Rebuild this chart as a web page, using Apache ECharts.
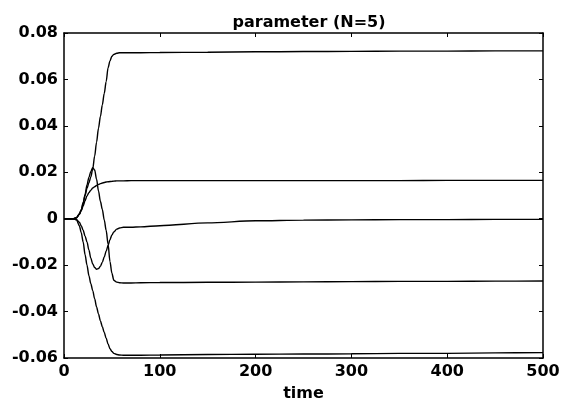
<!DOCTYPE html>
<html><head><meta charset="utf-8">
<script src="https://cdn.jsdelivr.net/npm/echarts@6/dist/echarts.min.js"></script>
<style>html,body{margin:0;padding:0;background:#fff}#c{width:570px;height:407px}</style>
</head><body><div id="c"></div>
<script>
const times = [0,5,10,13,16,18,20,22,24,26,28,30,32,34,36,38,40,42,44,46,48,50,52,55,58,62,70,80,100,150,200,250,300,350,400,450,500];
const seriesTop = [0,0,0,0.0005,0.002,0.004,0.007,0.010,0.013,0.0155,0.018,0.0215,0.027,0.033,0.039,0.044,0.049,0.054,0.059,0.065,0.068,0.070,0.0708,0.0713,0.0715,0.0715,0.0715,0.0715,0.0716,0.0717,0.0719,0.072,0.0721,0.0722,0.0722,0.0723,0.0723];
const seriesPeak = [0,0,0,0.0004,0.0018,0.0035,0.0065,0.0105,0.0145,0.0178,0.0204,0.022,0.021,0.017,0.012,0.0075,0.004,-0.0005,-0.005,-0.011,-0.0185,-0.0235,-0.0265,-0.0273,-0.0276,-0.0277,-0.0277,-0.0276,-0.0275,-0.0274,-0.0273,-0.0272,-0.0271,-0.027,-0.027,-0.0269,-0.0268];
const seriesMid = [0,0,0,0.0003,0.002,0.0035,0.0055,0.0078,0.0098,0.0112,0.0123,0.0132,0.0138,0.0143,0.0148,0.0151,0.0154,0.0156,0.0158,0.0159,0.016,0.0161,0.0162,0.0163,0.0163,0.0163,0.0164,0.0164,0.0164,0.0164,0.0164,0.0164,0.0164,0.0164,0.0165,0.0165,0.0165];
const seriesDip = [0,0,0,-0.0003,-0.0015,-0.003,-0.005,-0.0075,-0.010,-0.0135,-0.017,-0.0195,-0.021,-0.0218,-0.0215,-0.0205,-0.0188,-0.0165,-0.014,-0.0115,-0.009,-0.007,-0.0057,-0.0045,-0.004,-0.0037,-0.0037,-0.0035,-0.003,-0.0018,-0.0009,-0.0006,-0.0005,-0.0004,-0.0004,-0.0003,-0.0003];
const seriesBottom = [0,0,0,-0.0005,-0.003,-0.006,-0.010,-0.0155,-0.020,-0.0245,-0.028,-0.031,-0.0345,-0.038,-0.041,-0.044,-0.0465,-0.049,-0.0515,-0.054,-0.056,-0.0572,-0.058,-0.0585,-0.0587,-0.0588,-0.0588,-0.0588,-0.0587,-0.0585,-0.0584,-0.0583,-0.0582,-0.058,-0.058,-0.0578,-0.0577];
const xTicks = [0,100,200,300,400,500];
const yTickLabels = ['-0.06','-0.04','-0.02','0','0.02','0.04','0.06','0.08'];

const font = 'DejaVu Sans';
function pairs(ys){ return times.map((t,i)=>[t, ys[i]]); }
function mk(ys){
  return {type:'line', data: pairs(ys), showSymbol:false, smooth:0.3, smoothMonotone:'x',
    lineStyle:{color:'#000', width:1.4}, silent:true, animation:false};
}
const axisLine = {show:true, onZero:false, lineStyle:{color:'#000', width:1.5}};
const tick = {show:true, inside:true, length:4, lineStyle:{color:'#000'}};
const chart = echarts.init(document.getElementById('c'));
chart.setOption({
  animation:false,
  backgroundColor:'#fff',
  title:{text:'parameter (N=5)', left:304, top:10, textAlign:'center',
    textStyle:{fontFamily:font, fontWeight:'bold', fontSize:16, color:'#000'}},
  grid:{left:64, right:27, top:33, bottom:45},
  xAxis:[{type:'value', min:0, max:500, interval:100, position:'bottom',
    name:'time', nameLocation:'middle', nameGap:28,
    nameTextStyle:{fontFamily:font, fontWeight:'bold', fontSize:16, color:'#000'},
    axisLine:axisLine, axisTick:tick, splitLine:{show:false},
    axisLabel:{fontFamily:font, fontWeight:'bold', fontSize:16, color:'#000', margin:6,
      formatter:v=>xTicks.includes(v)?String(v):''}},
    {type:'value', min:0, max:500, interval:100, position:'top',
    axisLine:axisLine, axisTick:tick, splitLine:{show:false}, axisLabel:{show:false}}],
  yAxis:[{type:'value', min:-0.06, max:0.08, interval:0.02, position:'left',
    axisLine:axisLine, axisTick:tick, splitLine:{show:false},
    axisLabel:{fontFamily:font, fontWeight:'bold', fontSize:16, color:'#000', margin:6,
      formatter:v=>{const i=Math.round((v+0.06)/0.02); return yTickLabels[i]||'';}}},
    {type:'value', min:-0.06, max:0.08, interval:0.02, position:'right',
    axisLine:axisLine, axisTick:tick, splitLine:{show:false}, axisLabel:{show:false}}],
  series:[mk(seriesTop), mk(seriesPeak), mk(seriesMid), mk(seriesDip), mk(seriesBottom)]
});
</script></body></html>
